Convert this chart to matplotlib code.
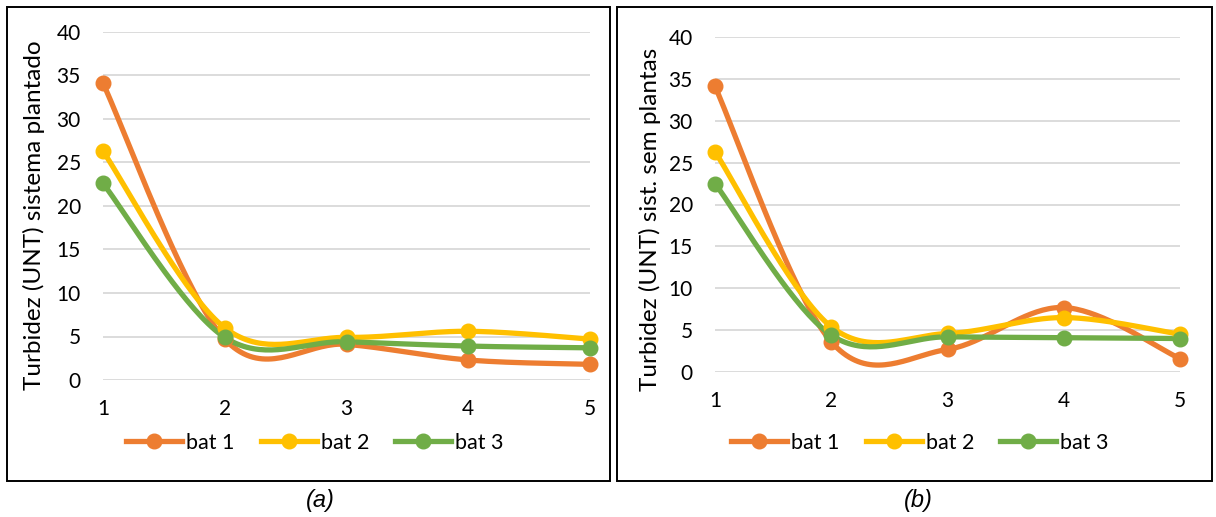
import numpy as np
import matplotlib
matplotlib.use("Agg")
import matplotlib.pyplot as plt
from matplotlib.patches import Rectangle
from matplotlib.lines import Line2D

# Sampling campaigns and turbidity readings (UNT)
campaigns = [1, 2, 3, 4, 5]
series_names = ["bat 1", "bat 2", "bat 3"]

planted_bat1 = [34.1, 4.7, 4.1, 2.3, 1.8]
planted_bat2 = [26.3, 6.0, 4.9, 5.6, 4.7]
planted_bat3 = [22.6, 4.9, 4.4, 3.9, 3.7]

unplanted_bat1 = [34.1, 3.6, 2.7, 7.7, 1.6]
unplanted_bat2 = [26.3, 5.4, 4.6, 6.5, 4.5]
unplanted_bat3 = [22.5, 4.4, 4.2, 4.1, 4.0]

y_ticks = [0, 5, 10, 15, 20, 25, 30, 35, 40]
colors = ["#ED7D31", "#FFC000", "#70AD47"]

plt.rcParams["font.family"] = ["Lato", "DejaVu Sans"]

W, H = 1216, 517
fig = plt.figure(figsize=(W / 100, H / 100), dpi=100)


def px_axes(left, top, right, bottom):
    return fig.add_axes([left / W, 1 - bottom / H, (right - left) / W, (bottom - top) / H])


def smooth(xs, ys, n=40):
    """Cubic Bezier smoothing through every point (cardinal spline)."""
    p = np.column_stack([xs, ys]).astype(float)
    ext = np.vstack([p[0], p, p[-1]])
    out = []
    t = np.linspace(0, 1, n)[:, None]
    for i in range(len(p) - 1):
        p0, p1, p2, p3 = ext[i], ext[i + 1], ext[i + 2], ext[i + 3]
        c1 = p1 + (p2 - p0) / 6
        c2 = p2 - (p3 - p1) / 6
        seg = ((1 - t) ** 3) * p1 + 3 * ((1 - t) ** 2) * t * c1 + 3 * (1 - t) * t ** 2 * c2 + t ** 3 * p2
        out.append(seg if i == 0 else seg[1:])
    out = np.vstack(out)
    return out[:, 0], out[:, 1]


def draw_panel(ax, data, ylabel, label_xy):
    for vals, c in zip(data, colors):
        sx, sy = smooth(campaigns, vals)
        ax.plot(sx, sy, color=c, lw=3.8, solid_capstyle="round", clip_on=False, zorder=3)
        ax.plot(campaigns, vals, "o", color=c, ms=10.5, clip_on=False, zorder=4)
    ax.set_xlim(1, 5)
    ax.set_ylim(0, 40)
    ax.set_xticks(campaigns)
    ax.set_yticks(y_ticks)
    ax.yaxis.grid(True, color="#D9D9D9", lw=1.3)
    ax.set_axisbelow(True)
    for s in ax.spines.values():
        s.set_visible(False)
    ax.tick_params(axis="both", length=0, labelsize=15, colors="#000000")
    ax.tick_params(axis="x", pad=14)
    ax.tick_params(axis="y", pad=16)
    ax.set_ylabel(ylabel, fontsize=17.5)
    ax.yaxis.set_label_coords(*label_xy)


ax_a = px_axes(103, 32, 590, 380)
draw_panel(ax_a, [planted_bat1, planted_bat2, planted_bat3],
           "Turbidez (UNT) sistema plantado", ((45 - 103) / 487, 0.475))

ax_b = px_axes(715, 37, 1180, 372)
draw_panel(ax_b, [unplanted_bat1, unplanted_bat2, unplanted_bat3],
           "Turbidez (UNT) sist. sem plantas", ((661 - 715) / 465, 0.455))

handles = [Line2D([], [], color=c, lw=3.8, marker="o", ms=10.5) for c in colors]
for cx in (315, 920):
    fig.legend(handles, series_names, loc="center", bbox_to_anchor=(cx / W, 1 - 443 / H),
               ncol=3, frameon=False, fontsize=15.5, handlelength=2.6, handletextpad=0.2,
               columnspacing=1.2)

# Panel frames
for (l, r) in ((7, 610), (617, 1212)):
    fig.patches.append(Rectangle((l / W, 1 - 481 / H), (r - l) / W, (481 - 7) / H,
                                 transform=fig.transFigure, fill=False, ec="#000000", lw=1.4))

for cx, lab in ((320, "(a)"), (918, "(b)")):
    fig.text(cx / W, 1 - 500 / H, lab, ha="center", va="center", fontsize=17,
             style="italic", family="Liberation Sans")

fig.savefig("out.png", dpi=100)
